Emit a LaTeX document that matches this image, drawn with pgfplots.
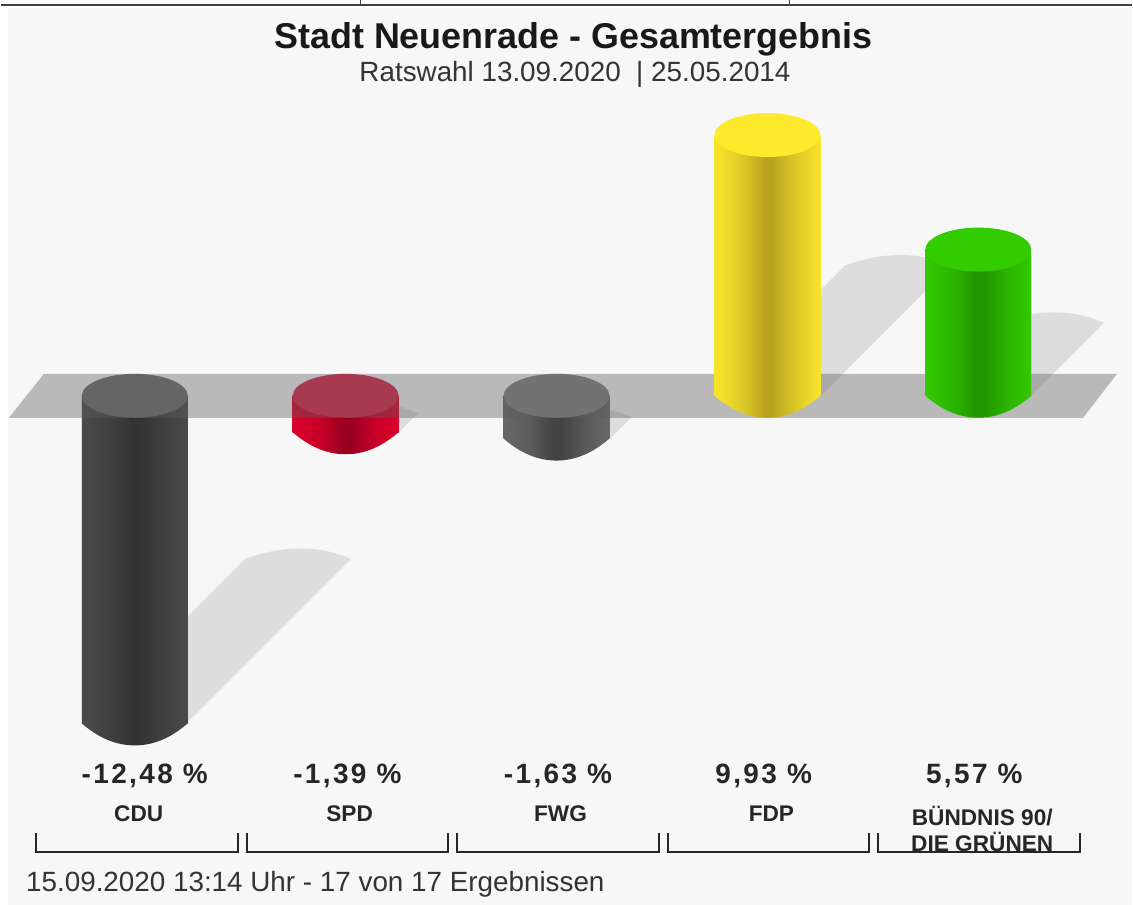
\documentclass[border=0pt]{standalone}
\usepackage{fontspec}
\setmainfont{Liberation Sans}
\newfontfamily\valfont[LetterSpace=8.5]{Liberation Sans Bold}
\newfontfamily\semi{Liberation Sans Bold}
\usepackage{pgfplots}
\pgfplotsset{compat=1.18}

\definecolor{bgc}{HTML}{F7F7F7}
\definecolor{shadowc}{HTML}{DDDDDD}
\definecolor{planec}{HTML}{5C5C5C}
\definecolor{cduE}{HTML}{4A4A4A}\definecolor{cduM}{HTML}{404040}\definecolor{cduD}{HTML}{333333}\definecolor{cduT}{HTML}{6C6C6C}
\definecolor{spdE}{HTML}{DA002C}\definecolor{spdM}{HTML}{C80028}\definecolor{spdD}{HTML}{98001F}\definecolor{spdT}{HTML}{DA2348}
\definecolor{fwgE}{HTML}{686868}\definecolor{fwgM}{HTML}{5A5A5A}\definecolor{fwgD}{HTML}{434343}\definecolor{fwgT}{HTML}{828282}
\definecolor{fdpE}{HTML}{F8E52B}\definecolor{fdpM}{HTML}{DCCB28}\definecolor{fdpD}{HTML}{B9A320}\definecolor{fdpT}{HTML}{FDEA2C}
\definecolor{gruE}{HTML}{33C900}\definecolor{gruM}{HTML}{2CB500}\definecolor{gruD}{HTML}{209600}\definecolor{gruT}{HTML}{33CC00}

\newcommand\defcyl[1]{%
  \pgfdeclarehorizontalshading{#1shade}{100bp}{%
    color(0bp)=(#1E); color(25bp)=(#1E); color(38bp)=(#1M); color(49bp)=(#1D);
    color(52bp)=(#1D); color(64bp)=(#1M); color(75bp)=(#1E); color(100bp)=(#1E)}%
  \pgfdeclareplotmark{bot#1}{%
    \pgfpathmoveto{\pgfqpoint{-39.75pt}{0.6pt}}%
    \pgfpathlineto{\pgfqpoint{-39.75pt}{0pt}}%
    \pgfpathcurveto{\pgfqpoint{-27pt}{-11pt}}{\pgfqpoint{-14pt}{-16.5pt}}{\pgfqpoint{0pt}{-16.5pt}}%
    \pgfpathcurveto{\pgfqpoint{14pt}{-16.5pt}}{\pgfqpoint{27pt}{-11pt}}{\pgfqpoint{39.75pt}{0pt}}%
    \pgfpathlineto{\pgfqpoint{39.75pt}{0.6pt}}%
    \pgfpathclose
    \pgfshadepath{#1shade}{0}\pgfusepath{discard}}%
}
\defcyl{cdu}\defcyl{spd}\defcyl{fwg}\defcyl{fdp}\defcyl{gru}
\pgfdeclareplotmark{capell}{%
  \pgfpathellipse{\pgfpointorigin}{\pgfqpoint{39.75pt}{0pt}}{\pgfqpoint{0pt}{16.5pt}}%
  \pgfusepath{fill}}

\pgfplotsset{base/.style={
  at={(0pt,0pt)}, anchor=north west,
  scale only axis, width=849.75pt, height=592.5pt,
  xmin=-0.6343, xmax=4.7290, ymin=-14.981, ymax=15.057,
  axis line style={draw=none}, tick style={draw=none},
  ytick=\empty, xtick={0,1,2,3,4}, clip=false,
  xticklabel style={font=\semi\fontsize{17}{19.5}\selectfont, align=center,
    xshift=3pt, yshift=-9pt, anchor=north, text=black!85},
}}
\newcommand\shadow[3]{%
  \pgfmathsetmacro\sa{#1-53+#3/2}\pgfmathsetmacro\sb{#2-#3/2}\pgfmathsetmacro\sc{\sa+106}%
  \fill[shadowc] ({#1-53},#2) -- (\sa,\sb) .. controls ({\sa+32},{\sb-12}) and ({\sc-35},{\sb-16}) .. (\sc,\sb) -- ({#1+53},#2) -- cycle;}
\newcommand\cyl[3]{% name, x, value
  \addplot[ybar, bar width=79.5pt, bar shift=0pt, draw=none, shade, shading=#1shade, forget plot] coordinates {(#2,#3)};}

\begin{document}
\begin{tikzpicture}
\begin{scope}[x=0.75pt,y=-0.75pt]
  \fill[white] (0,0) rectangle (1133,906);
  \fill[bgc] (7,8) rectangle (1133,906);
  \draw[line width=1.5pt,black!75] (0,4.5) -- (1133,4.5);
  \draw[line width=0.75pt,black!75] (360,0) -- (360,4.5) (790,0) -- (790,4.5);
  \shadow{134}{723}{327}
  \shadow{346}{432}{37}
  \shadow{557}{439}{43}
  \shadow{768}{396}{261}
  \shadow{979}{396}{146}
  \node[font=\semi\fontsize{26.95}{30}\selectfont,text=black!90] at (573.5,39) {Stadt Neuenrade - Gesamtergebnis};
  \node[font=\fontsize{20.9}{24}\selectfont,text=black!80] at (575,74) {Ratswahl 13.09.2020\ \ | 25.05.2014};
\end{scope}

% negative results, below the translucent plane
\begin{axis}[base, xticklabels={}]
  \cyl{cdu}{0}{-12.48}
  \addplot[only marks, mark=botcdu, forget plot] coordinates {(0,-12.48)};
  \addplot[only marks, mark=capell, mark options={fill=cduT,draw=none}, forget plot] coordinates {(0,0)};
  \cyl{spd}{1}{-1.39}
  \addplot[only marks, mark=botspd, forget plot] coordinates {(1,-1.39)};
  \addplot[only marks, mark=capell, mark options={fill=spdT,draw=none}, forget plot] coordinates {(1,0)};
  \cyl{fwg}{2}{-1.63}
  \addplot[only marks, mark=botfwg, forget plot] coordinates {(2,-1.63)};
  \addplot[only marks, mark=capell, mark options={fill=fwgT,draw=none}, forget plot] coordinates {(2,0)};
\end{axis}

\begin{scope}[x=0.75pt,y=-0.75pt]
  \fill[planec,opacity=0.4] (43,374) -- (1118,374) -- (1084,418) -- (8,418) -- cycle;
\end{scope}

% positive results, above the plane
\begin{axis}[base, xticklabels={CDU,SPD,FWG,FDP,{BÜNDNIS 90/\\DIE GRÜNEN}}]
  \addplot[only marks, mark=botfdp, forget plot] coordinates {(3,0)};
  \cyl{fdp}{3}{9.93}
  \addplot[only marks, mark=capell, mark options={fill=fdpT,draw=none}, forget plot] coordinates {(3,9.93)};
  \addplot[only marks, mark=botgru, forget plot] coordinates {(4,0)};
  \cyl{gru}{4}{5.57}
  \addplot[only marks, mark=capell, mark options={fill=gruT,draw=none}, forget plot] coordinates {(4,5.57)};
\end{axis}

\begin{scope}[x=0.75pt,y=-0.75pt]
  \foreach \x/\t in {144/{-12,48 \%},347/{-1,39 \%},558/{-1,63 \%},764/{9,93 \%},975/{5,57 \%}}
    \node[font=\valfont\fontsize{21}{24}\selectfont,text=black!85] at (\x,777) {\t};
  \foreach \x in {35,246,457,668,879}
    \draw[line width=1.5pt,black!85] (\x,834) -- (\x,853) -- ({\x+202},853) -- ({\x+202},834);
  \node[font=\fontsize{20.9}{24}\selectfont,text=black!80,anchor=west] at (20.5,885) {15.09.2020 13:14 Uhr - 17 von 17 Ergebnissen};
\end{scope}
\end{tikzpicture}
\end{document}
